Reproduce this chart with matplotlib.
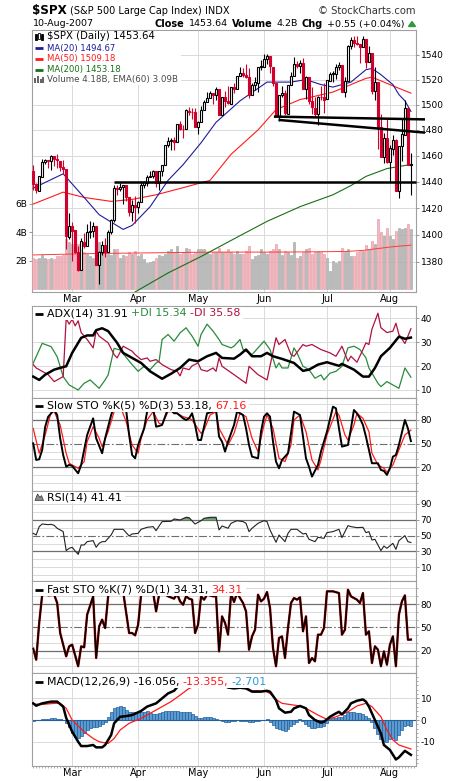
import matplotlib
matplotlib.use('Agg')
import matplotlib.pyplot as plt
from matplotlib.patches import Rectangle, Polygon
from matplotlib.lines import Line2D
from matplotlib.ticker import FixedLocator, NullLocator, MultipleLocator, FuncFormatter
import numpy as np
import pandas as pd

plt.rcParams['font.family'] = ['DejaVu Sans']
plt.rcParams['axes.unicode_minus'] = False

# ---------------- data ----------------
holidays = ['2007-02-19', '2007-04-06', '2007-05-28', '2007-07-04']

opens = [1448.3, 1438.0, 1433.2, 1443.9, 1455.3, 1456.8, 1455.5, 1459.6, 1457.3, 1456.2, 1451.0, 1449.3, 1398.6,
         1406.8, 1403.2, 1387.1, 1374.1, 1395.0, 1392.0, 1401.9, 1402.8, 1406.2, 1377.9, 1387.1, 1392.3, 1387.1, 1402.0,
         1410.9, 1435.0, 1434.5, 1436.1, 1437.5, 1428.4, 1417.2, 1422.5,
         1420.8, 1424.3, 1437.8, 1438.9, 1443.8, 1444.6, 1448.2, 1438.9, 1447.8, 1452.8, 1468.5, 1471.5, 1472.5, 1470.7,
         1484.3, 1480.9, 1480.4, 1495.3, 1494.2, 1494.1,
         1482.4, 1486.1, 1495.6, 1502.4, 1505.6, 1509.4, 1507.3, 1512.3, 1491.5, 1505.8, 1503.1, 1500.8, 1514.0, 1512.7,
         1522.8, 1525.1, 1524.1, 1522.1, 1507.5, 1515.6, 1517.6, 1530.2,
         1530.6, 1536.3, 1539.1, 1530.6, 1517.4, 1490.7, 1507.6, 1509.1, 1492.7, 1515.6, 1523.0, 1532.9, 1531.0, 1533.7,
         1512.8, 1522.2, 1502.6, 1497.7, 1492.6, 1506.3, 1505.7,
         1504.7, 1519.1, 1524.9, 1524.9, 1530.4, 1531.9, 1509.9, 1518.7, 1547.7, 1552.5, 1549.5, 1549.2, 1546.1, 1553.2,
         1534.1, 1541.6, 1511.0, 1518.1, 1482.4, 1458.9, 1473.9,
         1455.2, 1465.5, 1472.2, 1433.0, 1467.6, 1476.2, 1497.2, 1453.1]
highs = [1452.9, 1439.1, 1444.4, 1457.7, 1457.0, 1456.8, 1460.5, 1459.6, 1461.6, 1456.2, 1456.9, 1449.3, 1415.9,
         1409.5, 1403.4, 1391.9, 1397.9, 1401.2, 1408.0, 1410.2, 1409.3, 1406.2, 1388.1, 1395.7, 1397.5, 1403.2, 1411.5,
         1437.8, 1437.7, 1438.9, 1437.7, 1437.5, 1428.4, 1426.2, 1429.2,
         1425.5, 1440.6, 1440.2, 1444.9, 1448.1, 1448.7, 1448.4, 1448.0, 1453.1, 1468.6, 1474.4, 1474.0, 1474.2, 1484.7,
         1487.3, 1483.8, 1496.6, 1498.0, 1497.3, 1497.2,
         1487.3, 1499.1, 1503.3, 1510.3, 1511.0, 1509.4, 1513.8, 1512.3, 1506.2, 1510.9, 1514.8, 1514.2, 1517.1, 1522.8,
         1529.9, 1529.2, 1532.4, 1529.3, 1517.4, 1521.8, 1530.2, 1535.6,
         1540.6, 1540.5, 1539.1, 1530.6, 1517.4, 1507.8, 1515.0, 1511.3, 1515.7, 1526.5, 1538.7, 1535.4, 1535.9, 1537.3,
         1522.9, 1522.2, 1514.3, 1506.1, 1506.8, 1514.8, 1517.5,
         1519.5, 1526.0, 1526.6, 1532.4, 1534.3, 1531.9, 1522.1, 1547.9, 1555.1, 1555.9, 1555.3, 1549.2, 1555.9, 1553.2,
         1547.2, 1541.6, 1530.4, 1518.1, 1492.9, 1477.9, 1488.3,
         1468.4, 1476.4, 1473.2, 1467.7, 1488.3, 1503.9, 1497.2, 1462.0]
lows = [1433.4, 1431.4, 1433.2, 1443.9, 1453.7, 1450.5, 1449.2, 1452.0, 1450.5, 1448.4, 1445.5, 1389.4, 1396.7,
        1380.9, 1386.9, 1373.4, 1374.1, 1390.6, 1392.0, 1397.3, 1398.4, 1377.7, 1364.0, 1385.2, 1383.6, 1387.1, 1400.7,
        1409.8, 1429.9, 1433.2, 1423.3, 1425.5, 1414.1, 1410.6, 1408.9,
        1416.4, 1424.3, 1435.1, 1436.7, 1443.3, 1443.0, 1435.9, 1433.9, 1444.6, 1452.8, 1467.0, 1464.0, 1464.5, 1470.7,
        1480.2, 1473.7, 1480.4, 1491.4, 1488.7, 1482.3,
        1476.7, 1486.1, 1495.6, 1501.8, 1505.5, 1500.7, 1503.8, 1491.4, 1491.5, 1498.3, 1500.4, 1500.8, 1509.3, 1512.7,
        1522.7, 1522.1, 1521.7, 1505.2, 1507.5, 1512.0, 1510.1, 1528.0,
        1530.6, 1532.3, 1525.6, 1514.7, 1490.4, 1487.4, 1505.8, 1492.0, 1492.7, 1515.6, 1523.0, 1529.3, 1525.7, 1512.3,
        1504.8, 1500.7, 1492.7, 1490.5, 1484.2, 1503.4, 1493.6,
        1504.7, 1519.1, 1517.7, 1520.5, 1527.5, 1510.0, 1506.1, 1518.7, 1544.9, 1546.7, 1547.8, 1533.7, 1546.1, 1529.2,
        1534.1, 1508.6, 1503.9, 1465.3, 1458.9, 1454.3, 1454.3,
        1439.6, 1460.6, 1432.8, 1427.4, 1455.8, 1476.2, 1453.1, 1429.7]
closes = [1438.06, 1433.37, 1444.26, 1455.30, 1456.81, 1455.54, 1459.68, 1457.63, 1456.38, 1451.19, 1449.37, 1399.04, 1406.82,
          1403.17, 1387.17, 1374.12, 1395.41, 1391.97, 1401.89, 1402.84, 1406.60, 1377.95, 1387.17, 1392.28, 1386.95,
          1402.06, 1410.94, 1435.04, 1434.54, 1436.11, 1437.50, 1428.61, 1417.23, 1422.53, 1420.86,
          1424.55, 1437.77, 1439.37, 1443.76, 1444.61, 1448.39, 1438.87, 1447.80, 1452.85, 1468.33, 1471.48, 1472.50,
          1470.73, 1484.35, 1480.93, 1480.41, 1495.42, 1494.25, 1494.07, 1482.37,
          1486.30, 1495.92, 1502.39, 1505.62, 1509.48, 1507.72, 1512.58, 1491.47, 1505.85, 1503.15, 1501.19, 1514.14,
          1512.75, 1522.75, 1525.10, 1524.12, 1522.28, 1507.51, 1515.73, 1518.11, 1530.23, 1530.62,
          1536.34, 1539.18, 1530.95, 1517.38, 1490.72, 1507.67, 1509.12, 1493.00, 1515.67, 1522.97, 1532.91, 1531.05,
          1533.70, 1512.84, 1522.19, 1502.56, 1497.74, 1492.89, 1506.34, 1505.71, 1503.35,
          1519.43, 1524.87, 1525.40, 1530.44, 1531.85, 1510.12, 1518.76, 1547.70, 1552.50, 1549.52, 1549.37, 1546.17,
          1553.08, 1534.10, 1541.57, 1511.04, 1518.09, 1482.66, 1458.95, 1473.91, 1455.27,
          1465.81, 1472.20, 1433.06, 1467.67, 1476.71, 1497.49, 1453.09, 1453.64]
volume_b = [2.2, 2.1, 2.2, 2.4, 2.2, 2.1, 2.2, 2.1, 2.3, 2.3, 2.4, 3.5, 3.3,
            3.2, 3.0, 3.2, 2.9, 2.6, 2.5, 2.3, 2.2, 3.1, 3.3, 2.7, 3.0, 2.5, 2.4, 2.8, 2.8, 2.2, 2.4, 2.3, 2.6, 2.5, 2.7,
            2.3, 2.5, 2.1, 1.8, 1.9, 2.0, 2.2, 2.4, 2.3, 2.5, 2.7, 2.8, 2.6, 3.0, 2.5, 2.6, 2.9, 2.8, 2.5, 2.6,
            2.8, 2.8, 2.8, 2.6, 2.5, 2.6, 2.6, 2.9, 2.6, 2.6, 2.8, 2.6, 2.5, 2.7, 2.5, 2.5, 2.7, 3.0, 2.1, 2.3, 2.4, 2.8,
            2.6, 2.5, 2.7, 2.8, 3.2, 2.8, 2.4, 2.7, 2.6, 2.4, 3.3, 2.2, 2.3, 2.6, 2.8, 2.9, 2.5, 2.6, 2.7, 2.6, 2.5,
            2.2, 1.3, 2.0, 1.8, 2.0, 2.9, 2.6, 2.8, 2.3, 2.3, 2.6, 2.7, 2.7, 3.1, 2.8, 3.4, 3.2, 4.9, 4.0, 3.7, 4.3,
            3.7, 3.5, 4.1, 4.3, 4.2, 4.3, 4.6, 4.2]

ma20_x = [0, 10, 17, 22, 30, 33, 39, 45, 50, 56, 61, 69, 78, 86, 91, 96, 100, 106, 111, 113, 116, 120, 122, 124, 126]
ma20_y = [1435, 1446, 1428, 1415, 1404, 1407, 1421, 1441, 1453, 1470, 1486, 1503, 1518, 1518, 1520, 1516, 1514,
          1518, 1528, 1529, 1524, 1516, 1508, 1503, 1494.67]
ma50_x = [0, 10, 17, 26, 33, 41, 51, 59, 66, 75, 81, 89, 91, 100, 106, 111, 113, 118, 122, 126]
ma50_y = [1423, 1432, 1428, 1425, 1426.5, 1430, 1436, 1441, 1461, 1480, 1496, 1504, 1505, 1510, 1516, 1521,
          1522, 1517, 1513, 1509.18]
ma200_x = [33, 45, 56, 67, 78, 89, 100, 106, 111, 118, 126]
ma200_y = [1357, 1372, 1384, 1397, 1410, 1421, 1430, 1437, 1444, 1450, 1453.18]
vema_x = [0, 20, 40, 60, 80, 95, 105, 110, 115, 120, 126]
vema_y = [2.4, 2.5, 2.55, 2.6, 2.6, 2.62, 2.65, 2.72, 2.85, 2.98, 3.09]

# hand-drawn trend lines: (bar, price) end points
trend_support = ([27, 127.6], [1440, 1440])
trend_upper = ([80.3, 130.7], [1490.5, 1488.3])
trend_lower = ([81.8, 130.7], [1487.9, 1477.9])

adx_x = [0, 2, 4, 7, 10, 11, 13, 16, 18, 20, 21, 23, 25, 28, 30, 33, 36, 39, 43, 46, 49, 52, 55, 58, 61, 63, 67,
         69, 71, 73, 76, 78, 80, 83, 87, 90, 92, 95, 98, 102, 103, 107, 110, 112, 114, 116, 119, 122, 124, 126]
adx_y = [15.6, 14.2, 16.4, 18.5, 19.6, 19.9, 25.5, 31.8, 32.8, 32.8, 35, 35.8, 34.6, 29.7, 25.5, 23.4, 21.3, 17.8,
         14.7, 16.8, 19.2, 22.7, 22, 24.1, 25.5, 23.4, 23.1, 24.8, 26.9, 24.1, 24.1, 25.5, 24.1, 23, 21.3, 18, 18.5,
         20.6, 21.6, 20.1, 20.9, 18.5, 15.6, 15.6, 19.2, 24.1, 27.6, 32.3, 31.4, 31.91]
pdi_x = [0, 3, 6, 8, 10, 12, 15, 17, 19, 22, 24, 25, 27, 29, 33, 35, 37, 39, 41, 42, 43, 45, 47, 49, 51, 53, 55, 56,
         58, 60, 62, 63, 66, 67, 69, 70, 73, 77, 79, 81, 82, 83, 85, 87, 88, 90, 92, 94, 96, 97, 99, 101, 103, 105,
         107, 109, 111, 112, 115, 116, 118, 120, 122, 124, 126]
pdi_y = [21.2, 29.5, 28.1, 23.9, 15.6, 12.1, 10, 12.8, 14.2, 10.7, 14.2, 16.3, 27.4, 26.7, 20.6, 17.8, 19.9, 18.5,
         21.3, 22, 31.1, 33.2, 30.4, 33.9, 36, 32.5, 28.3, 33.2, 37.5, 34.6, 31.1, 29, 27.6, 28.3, 31.1, 26.9, 24.8,
         30.4, 26.9, 19.2, 21.3, 19.2, 19.2, 27.6, 25.5, 19.9, 18.5, 14.9, 16.3, 14.2, 17, 17.8, 19.9, 27.6, 28.3,
         26.9, 23.4, 19.2, 12.8, 11.4, 13.5, 12.1, 10.7, 19.2, 15.34]
mdi_x = [0, 1, 5, 7, 9, 10, 11, 12, 13, 14, 15, 16, 18, 20, 21, 22, 25, 27, 28, 30, 31, 33, 34, 36, 38, 39, 41, 43,
         46, 48, 49, 50, 52, 53, 55, 56, 58, 60, 61, 62, 63, 67, 71, 72, 75, 78, 81, 82, 84, 86, 87, 90, 91, 93, 95,
         96, 99, 101, 103, 105, 106, 108, 110, 111, 112, 113, 115, 116, 118, 120, 121, 122, 124, 126]
mdi_y = [20.6, 19.2, 16.4, 13.5, 14.9, 15.6, 39.9, 37.5, 39.6, 36.8, 38.9, 34, 31.1, 27.6, 34.6, 32.5, 29.7, 24.8,
         23.4, 28.3, 27.6, 26.2, 24.8, 22.7, 23.4, 22, 22.7, 20.6, 18.5, 17.8, 15.9, 19.2, 18.5, 20.1, 21.3, 18.5,
         17.8, 19.2, 17.8, 23.4, 19.9, 16.4, 12.8, 19.9, 16.4, 14.2, 31.8, 29, 31.1, 24.8, 24.1, 29, 28.3, 29, 27.6,
         26.9, 25.5, 24.1, 28.3, 22, 24.1, 21.6, 26.9, 29.7, 29, 35.4, 42.1, 36, 34, 34.6, 37.9, 33.2, 29.4, 35.58]

slowk_x = [0, 1, 2, 3, 4, 5, 7, 8, 9, 10, 11, 12, 13, 15, 16, 18, 20, 21, 23, 24, 26, 27, 29, 31, 32, 33, 34, 35,
           37, 38, 40, 41, 42, 43, 45, 46, 47, 48, 50, 51, 52, 53, 54, 55, 56, 57, 58, 60, 61, 62, 63, 64, 65, 67,
           68, 69, 70, 71, 72, 73, 75, 76, 77, 78, 79, 80, 81, 82, 83, 85, 86, 87, 88, 89, 90, 91, 92, 93, 95, 96,
           98, 100, 101, 102, 103, 105, 106, 107, 108, 109, 110, 111, 112, 113, 115, 116, 117, 118, 119, 120, 121,
           122, 124, 125, 126]
slowk_y = [50.4, 29.3, 30.1, 42, 71.5, 84.2, 92.7, 86.3, 56.8, 35.6, 20.8, 23, 21.7, 12.4, 23, 61, 82.1, 56.8,
           37.8, 56.8, 86.3, 96.9, 96.9, 92.7, 61, 35.6, 31.4, 48.3, 69.4, 90.6, 94.8, 71.5, 72.4, 73.7, 94.8, 92.7,
           88.5, 88.5, 82.1, 80, 82.1, 88.5, 73.7, 54.6, 54.6, 71.5, 88.5, 90.6, 92.7, 58.9, 52.5, 39.9, 52.5, 73.7,
           90.6, 88.5, 86.3, 69.4, 48.3, 33.5, 31.4, 65.2, 84.2, 88.5, 84.2, 52.5, 27.2, 18.7, 29.3, 37.8, 63.1,
           90.6, 88.5, 86.3, 58.9, 31.4, 20.8, 8.2, 23, 39.9, 65.2, 96.9, 94.8, 69.4, 46.2, 48.3, 69.4, 92.7, 88.5,
           82.1, 73.7, 58.9, 42, 25.1, 25.1, 16.6, 15.4, 10.3, 18.7, 33.5, 35.6, 48.3, 80, 69.4, 53.18]
slowd_x = [0, 2, 4, 6, 7, 9, 11, 12, 15, 17, 18, 20, 22, 23, 25, 27, 29, 31, 33, 35, 36, 38, 40, 42, 43, 45, 47,
           50, 52, 53, 56, 57, 59, 61, 62, 65, 67, 69, 71, 73, 75, 77, 78, 80, 82, 84, 86, 87, 89, 91, 93, 95, 96,
           98, 101, 102, 104, 105, 107, 108, 110, 112, 113, 115, 117, 118, 120, 122, 124, 126]
slowd_y = [69.4, 37.8, 61, 90.6, 90.6, 73.7, 37.8, 25.1, 18.7, 27.2, 52.5, 71.5, 56.8, 46.2, 65.2, 90.6, 98, 77.9,
           48.3, 37.8, 56.8, 80, 90.6, 75.8, 74.5, 90.6, 90.6, 84.2, 82.1, 80, 63.1, 67.3, 86.3, 90.6, 69.4, 48.3,
           63.1, 88.5, 84.2, 56.8, 39.9, 73.7, 86.3, 69.4, 31.4, 27.2, 48.3, 80, 86.3, 65.2, 29.3, 16.6, 29.3, 61,
           90.6, 86.3, 61, 54.6, 73.7, 88.5, 82.1, 65.2, 37.8, 23, 18.7, 13.7, 23, 42, 61, 67.16]

rsi_x = [0, 1, 2, 3, 5, 6, 7, 8, 9, 10, 11, 12, 13, 14, 15, 16, 17, 18, 20, 21, 22, 23, 24, 26, 27, 29, 30, 32, 33,
         35, 36, 38, 40, 41, 42, 43, 46, 47, 49, 51, 52, 54, 56, 57, 59, 61, 62, 63, 65, 66, 68, 70, 71, 72, 73, 75,
         77, 78, 79, 81, 82, 84, 85, 86, 88, 90, 91, 92, 94, 95, 97, 98, 100, 102, 103, 105, 106, 108, 110, 111,
         112, 113, 114, 116, 117, 118, 120, 121, 122, 124, 125, 126]
rsi_y = [52.9, 50.8, 61.4, 64.7, 63.9, 64.3, 63, 59.3, 57.2, 55.1, 31.1, 34, 35.3, 30.6, 26.4, 38.2, 38.2, 42.4,
         43.7, 35.3, 40.3, 42.4, 42.4, 50.8, 58, 58, 58, 49.6, 52.1, 52.9, 58, 60.5, 61.4, 56.3, 62.2, 67.7, 68.1,
         71.1, 69.8, 73.2, 72.7, 64.7, 68.9, 71.9, 73.2, 73.2, 57.2, 62.2, 59.3, 65.6, 68.9, 67.7, 65.6, 55.1, 59.3,
         65.6, 68.9, 67.7, 57.2, 41.6, 50.8, 42.4, 52.9, 58, 58, 52.1, 52.9, 45.4, 42.4, 47.9, 46.6, 53.8, 55.1,
         58, 47.5, 62.6, 61.4, 60.1, 60.5, 53.8, 55.1, 44.5, 45.4, 31.1, 36.9, 34, 40.3, 32.7, 43.7, 50, 42.4, 41.41]

fastk_x = [0, 1, 2, 3, 4, 5, 7, 8, 9, 10, 11, 12, 13, 15, 16, 17, 18, 20, 21, 22, 23, 24, 25, 26, 30, 32, 33, 34,
           35, 36, 38, 40, 41, 42, 43, 45, 47, 48, 49, 50, 51, 52, 53, 54, 55, 56, 57, 58, 60, 61, 62, 63, 64, 65,
           66, 67, 68, 70, 71, 72, 73, 74, 75, 76, 77, 78, 79, 80, 81, 82, 83, 84, 85, 86, 87, 88, 89, 90, 91, 92,
           93, 94, 95, 96, 97, 98, 100, 102, 103, 104, 105, 106, 107, 108, 109, 110, 111, 112, 113, 114, 115, 116,
           117, 118, 119, 120, 121, 122, 123, 124, 125, 126]
fastk_y = [22.6, 8.4, 55.6, 92, 94.1, 91.1, 92, 81.3, 42.7, 27.7, 12.7, 25.6, 27.7, 0, 25.6, 24.3, 66.3, 89.9,
           10.6, 51.3, 59.9, 49.1, 89.9, 96.3, 96, 42.7, 42.7, 39.7, 53.4, 92, 95, 95, 70.6, 92, 95, 89.9, 86.9,
           92.9, 83.4, 79.1, 89.9, 86.9, 85.6, 42.7, 53.4, 89.9, 85.6, 92, 89.9, 90, 19.1, 64.1, 55.6, 40.6, 92.9,
           82.6, 94.1, 81.3, 70.6, 21.3, 38.4, 47, 92, 83.4, 86.9, 95.4, 74.9, 23.4, 0, 36.3, 38.4, 10.6, 49.1,
           81.3, 87.7, 85.6, 88.6, 44.9, 64.1, 4.1, 10.6, 6.3, 40.6, 40.6, 49.1, 96.3, 96.3, 94.1, 40.6, 47, 98.4,
           89.9, 87.7, 85.6, 81.3, 94.1, 40.6, 44.9, 4.1, 25.6, 21.3, 0, 19.1, 2, 27.7, 38.4, 0, 66.3, 83.4, 91.1,
           34.1, 34.31]

macd_x = [0, 1, 3, 6, 8, 10, 11, 13, 15, 16, 18, 20, 21, 23, 24, 26, 27, 29, 31, 33, 36, 38, 40, 41, 43, 45, 47,
          48, 49, 52, 56, 60, 63, 65, 67, 69, 71, 73, 76, 78, 79, 81, 82, 84, 86, 87, 89, 91, 92, 94, 96, 97, 99,
          101, 102, 103, 105, 106, 108, 110, 111, 112, 114, 116, 117, 119, 121, 122, 124, 126]
macd_y = [7.7, 6.6, 7.7, 8.5, 8.5, 6.2, 1.0, -5.4, -10, -12, -12, -11.5, -12.6, -12.6, -11.5, -6.9, -1.5, 1.5,
          1.8, 2.3, 4.2, 6.2, 7.2, 7.7, 10, 12.3, 13.5, 15.1, 16.2, 18, 19, 18.5, 16.5, 15, 14.6, 14.9, 14.6, 13.1,
          13.1, 13.5, 13.1, 9.2, 5.4, 3.4, 3.8, 5.4, 6.5, 5.4, 2.3, 0, -1.2, -0.8, 1.5, 3.1, 3.8, 2.6, 5.4, 7.7,
          8.9, 9.5, 8.5, 6.2, 0, -6.2, -11.5, -13.8, -18.2, -17.2, -14.2, -16.056]
sig_x = [0, 3, 7, 9, 11, 13, 17, 20, 22, 25, 27, 29, 32, 36, 39, 42, 46, 49, 52, 55, 60, 65, 71, 73, 77, 79, 81,
         83, 87, 89, 91, 95, 98, 101, 105, 108, 111, 113, 116, 118, 120, 122, 126]
sig_y = [7.4, 7.2, 7.7, 7.7, 5.4, 0, -5.4, -8.5, -10, -10.8, -8.5, -4.6, -1.5, 0.8, 3.1, 5.4, 8.5, 11.5, 14.6,
         16.2, 17.8, 16.0, 15.0, 13.5, 13.5, 12.3, 9.5, 7.7, 6.9, 6.5, 5.4, 2.3, 0.3, 1.5, 3.8, 6.5, 7.7, 6.2, 1.5,
         -4.6, -9.2, -11.5, -13.355]
hist = [-0.3, 0.2, 0.2, 0.3, 0.5, 0.7, 0.9, 0.8, 0.6, 0.4, 0.1, -1.3, -3.2, -5.8, -7.8, -8.5, -7.4, -5.9, -4.6, -3.8,
        -3.4, -3.1, -2.9, -2.0, -0.8, 1.2, 3.8, 5.5, 6.2, 6.5, 5.9, 4.8, 3.9, 3.5, 3.6, 3.5, 3.6, 3.8, 4.2, 3.4,
        2.8, 2.8, 3.3, 3.7, 4.0, 4.2, 4.2, 4.2, 4.2, 3.8, 3.8, 3.7, 3.5, 3.0, 2.0, 1.0, 0.8, 1.2, 1.2, 1.2,
        1.1, 0.5, -0.2, -0.6, -1.0, -1.1, -0.6, -0.3, 0.0, -0.3, -0.5, -0.3, -0.7, -0.8, -0.6, -0.4, -0.2, 0.1, 0.3, -0.8,
        -2.2, -3.5, -4.2, -4.8, -4.9, -4.0, -2.8, -1.7, -0.7, 0.3, -0.4, -1.6, -2.8, -3.6, -3.6, -3.3, -3.0, -2.6, -1.4, 0.3,
        0.8, 1.1, 1.4, 1.5, 2.5, 3.5, 3.8, 3.8, 3.4, 3.1, 2.8, 2.0, 1.0, -0.8, -3.5, -6.5, -8.8, -9.6, -10.0, -8.9,
        -8.5, -9.2, -6.8, -4.5, -2.8, -2.3, -2.701]

# ---------------- layout ----------------
W, H = 460, 781
LEFT, RIGHT = 32.3, 415.7
RED = '#d4002c'
GRID = '#dadada'
SPINE = '#a0a0a0'
REF = '#6e6e6e'
LEG = 7.9

fig = plt.figure(figsize=(W / 100, H / 100), dpi=100)
fig.patch.set_facecolor('white')
R = fig.canvas.get_renderer()


def fx(x):
    return x / W


def fy(y):
    return 1 - y / H


dates = pd.bdate_range('2007-02-09', '2007-08-10')
dates = dates[~dates.isin(pd.to_datetime(holidays))]
idx = np.arange(len(dates))
month_pos = [i for i in range(1, len(dates)) if dates[i].month != dates[i - 1].month]
month_lab = [dates[i].strftime('%b') for i in month_pos]
XLIM = (-0.3, 127.6)


def panel(top, bottom, z):
    a = fig.add_axes([fx(LEFT), fy(bottom), (RIGHT - LEFT) / W, (bottom - top) / H])
    a.set_zorder(z)
    a.set_xlim(*XLIM)
    return a


def style(a, ylim, ticks, light=(), dark=(), dashdot=(), labels=False):
    a.set_ylim(*ylim)
    a.yaxis.tick_right()
    a.set_yticks(ticks)
    a.tick_params(axis='y', length=2, width=0.6, color='#888888', labelsize=6.5, pad=1.6)
    a.set_xticks(month_pos)
    if labels:
        a.set_xticklabels(month_lab)
        a.tick_params(axis='x', length=0, labelsize=7, pad=1.5)
    else:
        a.tick_params(axis='x', length=0, labelbottom=False)
    for s in a.spines.values():
        s.set_color(SPINE)
        s.set_linewidth(0.8)
    for v in light:
        a.axhline(v, color=GRID, lw=0.7, zorder=0)
    for m in month_pos:
        a.axvline(m, color=GRID, lw=0.7, zorder=0)
    for v in dark:
        a.axhline(v, color=REF, lw=0.9, zorder=1)
    for v in dashdot:
        a.axhline(v, color=REF, lw=0.8, ls=(0, (7, 2, 1.5, 2)), zorder=1)


def txt(x, y, s, color='black', size=LEG, weight='normal', ha='left'):
    t = fig.text(fx(x), fy(y), s, color=color, fontsize=size, fontweight=weight, ha=ha, va='center', zorder=5)
    return t.get_window_extent(R).width


def row(x, y, parts, size=LEG, gap=3.5):
    for k, (s, c) in enumerate(parts):
        x += txt(x, y, s, c, size) + (gap if k < len(parts) - 1 else 0)
    return x


def white_box(x0, y0, x1, y1):
    fig.add_artist(Rectangle((fx(x0), fy(y1)), (x1 - x0) / W, (y1 - y0) / H, transform=fig.transFigure,
                             facecolor='white', edgecolor='none', zorder=4))


def dash(y, color, lw=2.0):
    fig.add_artist(Line2D([fx(35), fx(43)], [fy(y), fy(y)], color=color, lw=lw, zorder=5,
                          solid_capstyle='butt'))


# ---------------- price panel ----------------
P_LO, P_HI = 1358.2, 1560.5
gax = panel(30, 292, 0)
gax.set_yscale('log')
gax.set_ylim(P_LO, P_HI)
gax.yaxis.set_major_locator(FixedLocator(range(1380, 1541, 20)))
gax.yaxis.set_minor_locator(NullLocator())
gax.tick_params(axis='both', length=0, labelleft=False, labelbottom=False)
gax.set_xticks(month_pos)
gax.grid(True, color=GRID, lw=0.7)
for s in gax.spines.values():
    s.set_color(SPINE)
    s.set_linewidth(0.8)

o, h, l, c = map(np.array, (opens, highs, lows, closes))
prev = np.r_[o[0], c[:-1]]
down = c < prev

axv = panel(30, 292, 1)
axv.patch.set_visible(False)
for s in axv.spines.values():
    s.set_visible(False)
axv.set_ylim(-0.21, 18.24)
axv.bar(idx, volume_b, width=0.86, color=np.where(down, '#f3b9c0', '#b9b9b9'),
        edgecolor=np.where(down, '#e3909b', '#a2a2a2'), lw=0.4, zorder=2)
axv.plot(vema_x, vema_y, color='#ff3b3b', lw=0.7, zorder=3)
axv.set_yticks([2, 4, 6])
axv.set_yticklabels(['2B', '4B', '6B'])
axv.tick_params(axis='y', length=2.5, width=0.6, color='#888888', labelsize=6.5, pad=1.2)
axv.tick_params(axis='x', length=0, labelbottom=False)

ax = panel(30, 292, 2)
ax.patch.set_visible(False)
for s in ax.spines.values():
    s.set_visible(False)
ax.set_yscale('log')
ax.set_ylim(P_LO, P_HI)
ax.yaxis.tick_right()
ax.yaxis.set_major_locator(FixedLocator(range(1380, 1541, 20)))
ax.yaxis.set_major_formatter(FuncFormatter(lambda v, p: f'{v:.0f}'))
ax.yaxis.set_minor_locator(NullLocator())
ax.yaxis.set_minor_formatter(FuncFormatter(lambda v, p: ''))
ax.tick_params(axis='y', length=2, width=0.6, color='#888888', labelsize=6.5, pad=1.6)
ax.set_xticks(month_pos)
ax.set_xticklabels(month_lab)
ax.tick_params(axis='x', length=0, labelsize=7, pad=1.5)

ax.plot(ma200_x, ma200_y, color='#167016', lw=0.8, zorder=2)
ax.plot(ma50_x, ma50_y, color='#ff1a1a', lw=0.8, zorder=2)
ax.plot(ma20_x, ma20_y, color='#1c1c9a', lw=0.8, zorder=2)

ccol = np.where(down, RED, 'black')
ax.vlines(idx, l, h, colors=ccol, lw=0.8, zorder=3)
body_lo = np.minimum(o, c)
body_h = np.maximum(np.abs(c - o), 0.35)
ax.bar(idx, body_h, bottom=body_lo, width=0.62, color=np.where(c < o, ccol, 'white'),
       edgecolor=ccol, lw=0.8, zorder=4)

for tx, ty in (trend_support, trend_upper, trend_lower):
    ax.plot(tx, ty, color='black', lw=1.8, zorder=5, clip_on=False, solid_capstyle='butt')

# ---------------- ADX ----------------
a1 = panel(306, 398, 1)
style(a1, (6.65, 45.1), [10, 20, 30, 40], light=[10, 20, 30, 40])
a1.plot(pdi_x, pdi_y, color='#2a8a3c', lw=0.9, zorder=2)
a1.plot(mdi_x, mdi_y, color='#b0123e', lw=0.9, zorder=2)
a1.plot(adx_x, adx_y, color='black', lw=1.8, zorder=3)

# ---------------- Slow STO ----------------
a2 = panel(398, 491, 1)
style(a2, (-10.1, 107.9), [20, 50, 80], light=[0, 10, 30, 40, 60, 70, 90, 100], dark=[20, 80], dashdot=[50])
a2.yaxis.set_minor_locator(MultipleLocator(10))
a2.tick_params(axis='y', which='minor', length=1.3, color='#999999')
a2.plot(slowd_x, slowd_y, color='#ff1a1a', lw=0.9, zorder=2)
a2.plot(slowk_x, slowk_y, color='black', lw=1.4, zorder=3)

# ---------------- RSI ----------------
a3 = panel(491, 581, 1)
style(a3, (-7.3, 106.4), [10, 30, 50, 70, 90], light=[0, 10, 20, 40, 60, 80, 90, 100], dark=[30, 70], dashdot=[50])
rx, ry = np.array(rsi_x), np.array(rsi_y)
a3.fill_between(rx, ry, 70, where=ry > 70, interpolate=True, color='#5a9a5a', lw=0, zorder=2)
a3.fill_between(rx, ry, 30, where=ry < 30, interpolate=True, color='#d06070', lw=0, zorder=2)
a3.plot(rx, ry, color='#222222', lw=0.8, zorder=3)

# ---------------- Fast STO ----------------
a4 = panel(581, 673, 1)
style(a4, (-8.7, 109.6), [20, 50, 80], light=[0, 10, 30, 40, 60, 70, 90, 100], dark=[20, 80], dashdot=[50])
a4.yaxis.set_minor_locator(MultipleLocator(10))
a4.tick_params(axis='y', which='minor', length=1.3, color='#999999')
a4.plot(fastk_x, fastk_y, color='#c00000', lw=1.7, zorder=2)
a4.plot(fastk_x, fastk_y, color='black', lw=1.1, zorder=3)

# ---------------- MACD ----------------
a5 = panel(673, 766, 1)
style(a5, (-21.2, 21.7), [-10, 0, 10], light=[-10, 10], labels=True)
a5.yaxis.set_minor_locator(MultipleLocator(2))
a5.xaxis.set_minor_locator(MultipleLocator(1))
a5.tick_params(axis='y', which='minor', length=1.3, color='#999999')
a5.tick_params(axis='x', which='minor', length=1.5, color='#aaaaaa')
a5.bar(idx, hist, width=1.0, color='#5b9bd0', edgecolor='#23609c', lw=0.5, zorder=2)
a5.axhline(0, color='#23609c', lw=0.8, zorder=2)
a5.plot(sig_x, sig_y, color='#ff1a1a', lw=0.9, zorder=3)
a5.plot(macd_x, macd_y, color='black', lw=1.8, zorder=4)

# ---------------- header ----------------
txt(32.5, 10.5, '$SPX', size=8.6, weight='bold')
txt(70, 11, '(S&P 500 Large Cap Index)', size=7.0)
txt(205, 11, 'INDX', size=7.0)
txt(416, 11, '\u00a9 StockCharts.com', size=7.2, color='#333333', ha='right')
txt(33, 24, '10-Aug-2007', size=6.8)
hx = 155
for s, wt in (('Close', 'bold'), ('1453.64', 'normal'), ('Volume', 'bold'), ('4.2B', 'normal'),
              ('Chg', 'bold'), ('+0.55 (+0.04%)', 'normal')):
    hx += txt(hx, 24, s, size=7.0 if wt == 'bold' else 6.8, weight=wt) + 4
fig.add_artist(Polygon([(fx(408.5), fy(26.5)), (fx(415.5), fy(26.5)), (fx(412), fy(21.5))],
                       closed=True, transform=fig.transFigure, color='#2f9a3a', zorder=5))

# ---------------- legends ----------------
main_rows = [
    (36.3, [('$SPX (Daily) 1453.64', 'black')], None, 7.3),
    (48.3, [('MA(20) 1494.67', '#1c1c9a')], '#1c1c9a', 6.1),
    (59.0, [('MA(50) 1509.18', '#ff1a1a')], '#ff1a1a', 6.1),
    (69.7, [('MA(200) 1453.18', '#167016')], '#167016', 6.1),
    (79.7, [('Volume 4.18B, EMA(60) 3.09B', '#4a4a4a')], None, 6.3),
]
xmax = 0
for y, parts, dc, sz in main_rows:
    xmax = max(xmax, row(46.7, y, parts, size=sz))
    if dc:
        dash(y, dc)
white_box(33, 31, xmax + 3, 85)
# candle glyph and volume glyph
for xx, y0, y1, fc in ((36, 33.5, 39.5, 'black'), (39, 32.5, 38.5, 'white'), (42, 34, 40, 'black')):
    fig.add_artist(Rectangle((fx(xx - 1), fy(y1)), 2 / W, (y1 - y0) / H, transform=fig.transFigure,
                             facecolor=fc, edgecolor='black', lw=0.6, zorder=5))
for xx, hh in ((35.5, 5), (38, 7), (40.5, 4), (43, 6)):
    fig.add_artist(Rectangle((fx(xx - 1), fy(83)), 2 / W, hh / H, transform=fig.transFigure,
                             facecolor='#666666', edgecolor='none', zorder=5))

panel_legends = [
    (306, 313.5, [('ADX(14) 31.91', 'black'), ('+DI 15.34', '#2a8a3c'), ('-DI 35.58', '#b0123e')], 'black'),
    (398, 405.7, [('Slow STO %K(5) %D(3) 53.18,', 'black'), ('67.16', '#ff1a1a')], 'black'),
    (491, 497.3, [('RSI(14) 41.41', 'black')], None),
    (581, 589.7, [('Fast STO %K(7) %D(1) 34.31,', 'black'), ('34.31', '#ff1a1a')], 'black'),
    (673, 681.7, [('MACD(12,26,9) -16.056,', 'black'), ('-13.355,', '#ff1a1a'), ('-2.701', '#2a9ad6')], 'black'),
]
for top, y, parts, dc in panel_legends:
    xe = row(46.7, y, parts)
    white_box(33, top + 1, xe + 3, y + 6)
    if dc:
        dash(y, dc)
fig.add_artist(Polygon([(fx(35), fy(500.5)), (fx(37.5), fy(494)), (fx(40), fy(497.5)), (fx(41.5), fy(495.5)),
                        (fx(43.5), fy(500.5))], closed=True, transform=fig.transFigure,
                       facecolor='#8a8a8a', edgecolor='#333333', lw=0.5, zorder=5))

fig.savefig('out.png', dpi=100, facecolor='white')
